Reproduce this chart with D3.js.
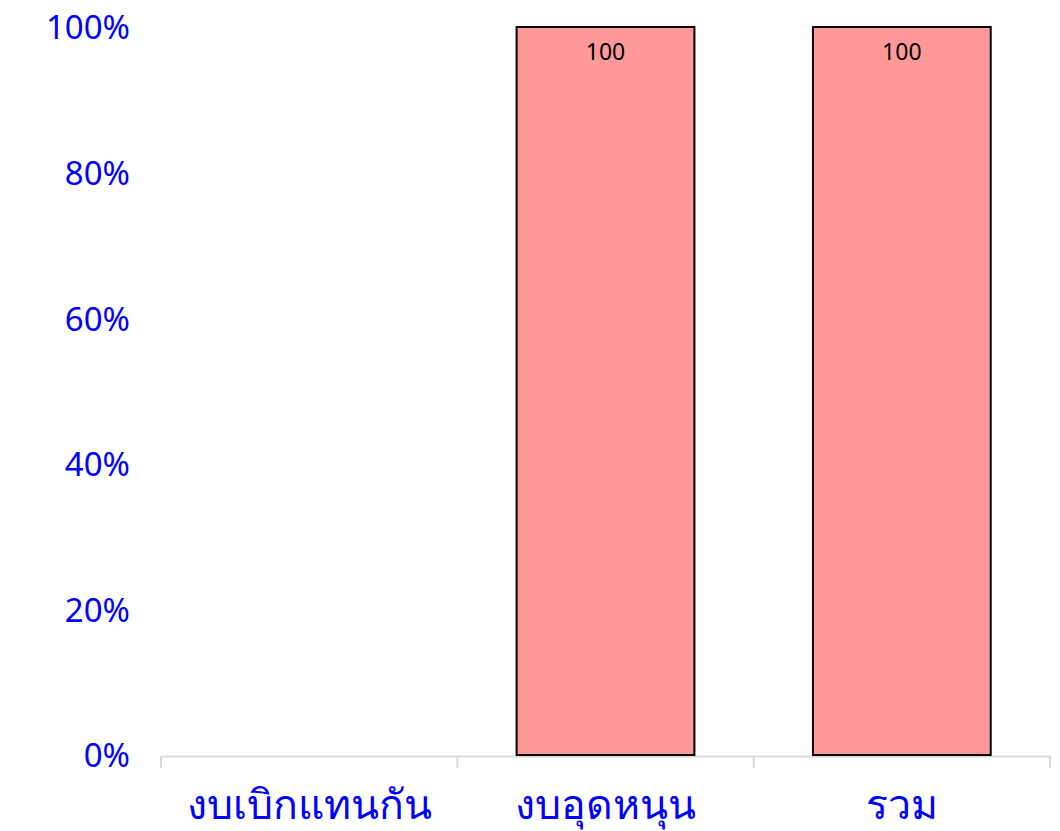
<!DOCTYPE html>
<html><head><meta charset="utf-8">
<script src="https://cdn.jsdelivr.net/npm/d3@7"></script>
<style>body{margin:0;background:#fff;}svg{display:block;}</style>
</head><body>
<script>
const categories = ["งบเบิกแทนกัน", "งบอุดหนุน", "รวม"];
const values = [null, 100, 100];
const yTicks = [0, 20, 40, 60, 80, 100];

const W = 1060, H = 831;
const m = {left: 161, right: 10, top: 27, bottom: 76};
const svg = d3.select("body").append("svg").attr("width", W).attr("height", H);

const x = d3.scaleBand().domain(categories).range([m.left, W - m.right]).padding(0);
const y = d3.scaleLinear().domain([0, 100]).range([H - m.bottom, m.top]);

// x axis
const xAxis = svg.append("g").attr("transform", `translate(0,${H - m.bottom + 1})`)
  .call(d3.axisBottom(x).tickSize(0).tickFormat(""));
xAxis.select(".domain").attr("stroke", "#d9d9d9").attr("stroke-width", 2);
const bounds = [...categories.map(c => x(c)), x(categories[categories.length-1]) + x.bandwidth()];
svg.append("g").selectAll("line").data(bounds).join("line")
  .attr("x1", d => d).attr("x2", d => d)
  .attr("y1", H - m.bottom + 1).attr("y2", H - m.bottom + 13)
  .attr("stroke", "#d9d9d9").attr("stroke-width", 2);
svg.append("g").selectAll("text").data(categories).join("text")
  .attr("x", d => x(d) + x.bandwidth()/2).attr("y", 819)
  .attr("text-anchor", "middle").attr("fill", "#0000ff")
  .attr("font-family", "'Noto Sans', sans-serif").attr("font-size", 41)
  .text(d => d);

// y axis labels
const yAxis = svg.append("g").attr("transform", `translate(130,0)`)
  .call(d3.axisLeft(y).tickValues(yTicks).tickSize(0).tickFormat(d => d + "%"));
yAxis.select(".domain").remove();
yAxis.selectAll("text").attr("fill", "#0000ff").attr("font-size", 33)
  .attr("font-family", "'Noto Sans', sans-serif").attr("x", 0).attr("dy", "0.36em");

// bars
const bw = x.bandwidth() * 0.6;
const data = categories.map((c, i) => ({c, v: values[i]})).filter(d => d.v != null);
svg.append("g").selectAll("rect").data(data).join("rect")
  .attr("x", d => x(d.c) + (x.bandwidth() - bw)/2)
  .attr("y", d => y(d.v))
  .attr("width", bw)
  .attr("height", d => y(0) - y(d.v))
  .attr("fill", "#ff9999").attr("stroke", "#000").attr("stroke-width", 2);
svg.append("g").selectAll("text").data(data).join("text")
  .attr("x", d => x(d.c) + x.bandwidth()/2)
  .attr("y", d => y(d.v) + 33)
  .attr("text-anchor", "middle").attr("fill", "#000")
  .attr("font-family", "'Noto Sans', sans-serif").attr("font-size", 23)
  .text(d => d.v);
</script>
</body></html>
